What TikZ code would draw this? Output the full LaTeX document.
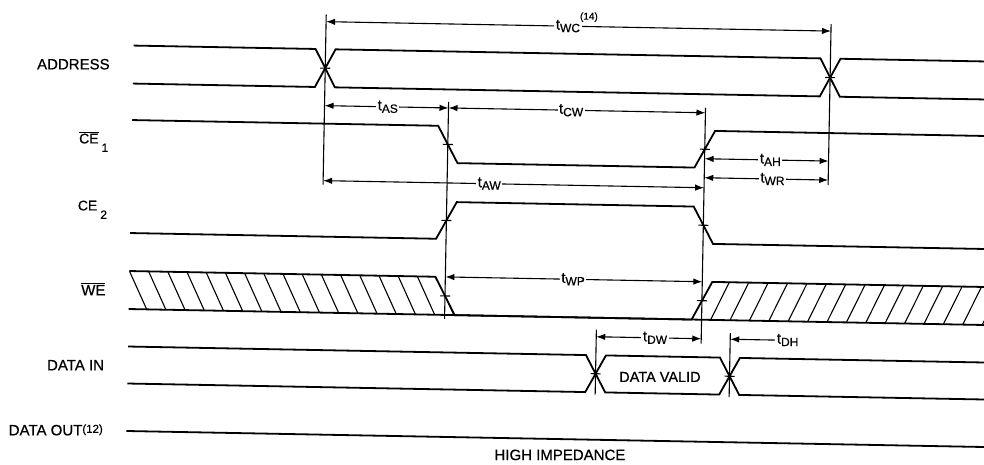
\documentclass[tikz,border=0pt]{standalone}
\usepackage{fontspec}
\setmainfont[FakeBold=0.6]{Liberation Sans}
\usepackage{graphicx}
\usetikzlibrary{arrows.meta}
\newcommand{\tlab}[1]{{\fontsize{15}{15}\selectfont t}\raisebox{-2.5pt}{\fontsize{12}{12}\selectfont #1}}
\newcommand{\ovl}[1]{$\overline{\hbox{#1}}$}
\begin{document}
\begin{tikzpicture}[x=1pt,y=-1pt,
  >={Latex[length=9pt,width=6.5pt]},
  sig/.style={line width=1.8pt,line join=miter},
  thinln/.style={line width=1.1pt},
  hatchln/.style={line width=1.1pt},
  dim/.style={line width=1.1pt,<->},
  lab/.style={fill=white,inner sep=1.5pt,text height=7pt,text depth=0pt},
  signame/.style={anchor=base east,font=\fontsize{15}{15}\selectfont},
  plain/.style={font=\fontsize{14.5}{14.5}\selectfont}]
\fill[white] (0,0) rectangle (984,465);
\useasboundingbox (0,0) rectangle (984,465);
\begin{scope}[rotate around={-1.07:(128,240)}]
% signal names
\node[signame] (nAddr) at (110,69.7) {ADDRESS};
\node[signame] (nCEa) at (110,143.7) {\fontsize{14}{14}\selectfont\ovl{CE}\hspace{3pt}\raisebox{-8.5pt}{\fontsize{12}{12}\selectfont 1}};
\node[signame] (nCEb) at (110,210.7) {\fontsize{14}{14}\selectfont CE\hspace{3pt}\raisebox{-8.5pt}{\fontsize{12}{12}\selectfont 2}};
\node[signame] (nWE) at (110,295.7) {\ovl{WE}};
\node[signame] (nDin) at (110,370.7) {DATA IN};
\node[signame] (nDout) at (110,435.7) {DATA OUT\raisebox{2.5pt}{\fontsize{11.5}{11.5}\selectfont(12)}};
% ADDRESS
\draw[sig] (130,45.5) -- (312,45.5) -- (332,83.5) -- (817,83.5) -- (837,45.5) -- (992,45.5);
\draw[sig] (130,83.5) -- (312,83.5) -- (332,45.5) -- (817,45.5) -- (837,83.5) -- (992,83.5);
% CE1
\draw[sig] (130,120) -- (436,120) -- (456,157) -- (693,157) -- (713,120) -- (992,120);
% CE2
\draw[sig] (130,233) -- (436,233) -- (456,196) -- (693,196) -- (713,233) -- (992,233);
% WE
\draw[sig] (130,271) -- (436,271) -- (456,309) -- (693,309) -- (713,271) -- (992,271);
\draw[sig] (130,309) -- (992,309);
\begin{scope}
\clip (130,271) -- (436,271) -- (456,309) -- (130,309) -- cycle;
\foreach \i in {0,...,16} \draw[hatchln] ({130+19.2*\i},271) -- ({148+19.2*\i},309);
\end{scope}
\begin{scope}
\clip (713,271) -- (992,271) -- (992,309) -- (693,309) -- cycle;
\foreach \i in {0,...,15} \draw[hatchln] ({712+19.4*\i},309) -- ({730+19.4*\i},271);
\end{scope}
% DATA IN
\draw[sig] (130,346.5) -- (588,346.5) -- (608,383.5) -- (722,383.5) -- (742,346.5) -- (992,346.5);
\draw[sig] (130,383.5) -- (588,383.5) -- (608,346.5) -- (722,346.5) -- (742,383.5) -- (992,383.5);
\node[plain,anchor=base] (nValid) at (662.5,372) {DATA VALID};
% DATA OUT
\draw[sig] (130,431) -- (992,431);
\node[font=\fontsize{15}{15}\selectfont,anchor=base] (nHiZ) at (564,452) {HIGH IMPEDANCE};
% reference verticals
\coordinate (aT) at (322,11); \coordinate (aB) at (322,181);
\coordinate (dT) at (827,11); \coordinate (dB) at (827,172);
\coordinate (bT) at (446,96); \coordinate (bB) at (446,313);
\coordinate (cT) at (703,97); \coordinate (cB) at (703,333);
\coordinate (eT) at (598,321); \coordinate (eB) at (598,386);
\coordinate (fT) at (732,322); \coordinate (fB) at (732,386);
\draw[thinln] (aT) -- (aB);
\draw[thinln] (dT) -- (dB);
\draw[thinln] (bT) -- (bB);
\draw[thinln] (cT) -- (cB);
\draw[thinln] (eT) -- (eB);
\draw[thinln] (fT) -- (fB);
\foreach \x/\y in {322/64.5,827/64.5,446/138.5,703/138.5,446/214.5,703/214.5,446/290,703/290,598/365,732/365}
  \draw[thinln] ({\x-5},\y) -- ({\x+5},\y);
% dimensions
\draw[dim] (322,18) -- node[lab,pos=0.479] (lWC) {\tlab{WC}\rlap{\raisebox{10pt}{\fontsize{10}{10}\selectfont(14)}}} (827,18);
\draw[dim] (322,102) -- node[lab,pos=0.51] (lAS) {\tlab{AS}} (446,102);
\draw[dim] (446,102) -- node[lab,pos=0.477] (lCW) {\tlab{CW}} (703,102);
\draw[dim] (703,148) -- node[lab,pos=0.53] (lAH) {\tlab{AH}} (827,148);
\draw[dim] (703,167) -- node[lab,pos=0.55] (lWR) {\tlab{WR}} (827,167);
\draw[dim] (322,177) -- node[lab,pos=0.436] (lAW) {\tlab{AW}} (703,177);
\draw[dim] (446,271) -- node[lab,pos=0.497] (lWP) {\tlab{WP}} (703,271);
\draw[dim] (598,328) -- node[lab,pos=0.56] (lDW) {\tlab{DW}} (703,328);
\coordinate (dhEnd) at (777,328);
\draw[thinln,<-] (732,328) -- (dhEnd);
\node[lab,anchor=west] (lDH) at (dhEnd) {\tlab{DH}};
\end{scope}
\end{tikzpicture}
\end{document}
